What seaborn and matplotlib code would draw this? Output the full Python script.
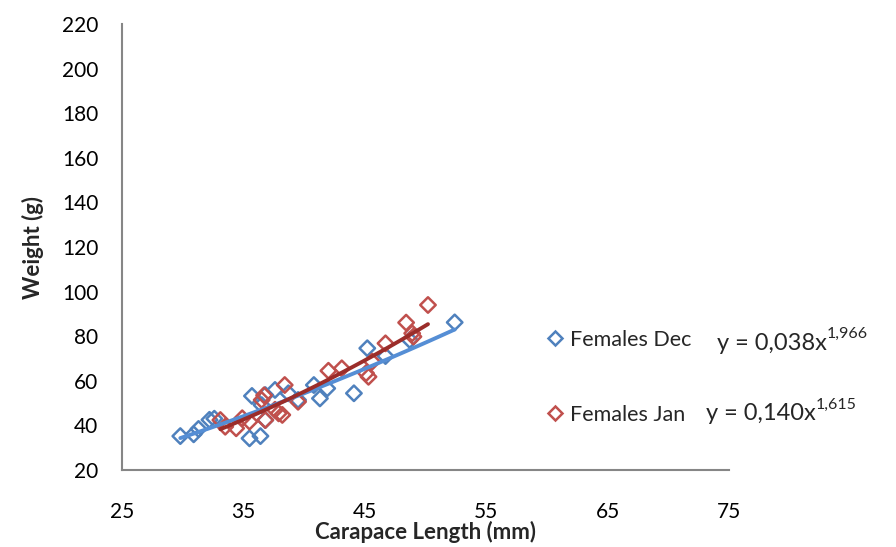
import numpy as np
import pandas as pd
import matplotlib
matplotlib.use("Agg")
import matplotlib.pyplot as plt
import seaborn as sns
from matplotlib.lines import Line2D

# ---- data ----
dec_length = [29.8, 30.9, 31.3, 32.2, 32.6, 35.5, 36.4, 35.7, 36.5, 36.8, 36.8,
              37.6, 38.7, 39.5, 40.8, 41.3, 41.9, 44.1, 45.2, 46.7, 48.7, 52.4]
dec_weight = [35.2, 36.0, 38.4, 42.5, 43.0, 34.2, 35.2, 53.2, 49.1, 42.4, 53.6,
              55.9, 54.4, 51.4, 58.1, 52.1, 56.6, 54.4, 74.6, 71.1, 78.3, 86.2]
jan_length = [33.1, 33.5, 34.4, 34.9, 35.5, 36.5, 36.7, 36.8, 37.6, 37.9, 38.2,
              38.4, 39.5, 42.0, 43.1, 45.1, 45.3, 45.6, 46.7, 48.4, 48.9, 49.0, 50.2]
jan_weight = [42.4, 39.4, 38.7, 43.2, 41.7, 51.4, 53.5, 42.4, 47.0, 45.4, 44.7,
              58.1, 50.6, 64.5, 65.6, 63.4, 61.8, 68.6, 76.8, 86.1, 81.3, 79.8, 94.0]
series_names = ["Females Dec", "Females Jan"]
equations = [("y = 0,038x", "1,966"), ("y = 0,140x", "1,615")]
x_ticks = [25, 35, 45, 55, 65, 75]
y_ticks = list(range(20, 221, 20))

marker_colors = ["#4F81BD", "#C0504D"]
line_colors = ["#558ED5", "#9B2D2A"]

df = pd.DataFrame({
    "length": dec_length + jan_length,
    "weight": dec_weight + jan_weight,
    "series": [series_names[0]] * len(dec_length) + [series_names[1]] * len(jan_length),
})

# power trendlines fitted to the data (as the spreadsheet does)
trend_rows = []
for name, xs, ys in [(series_names[0], dec_length, dec_weight),
                     (series_names[1], jan_length, jan_weight)]:
    b, a = np.polyfit(np.log(xs), np.log(ys), 1)
    xx = np.linspace(min(xs), max(xs), 50)
    for xv in xx:
        trend_rows.append({"length": xv, "weight": np.exp(a) * xv ** b, "series": name})
trend = pd.DataFrame(trend_rows)

sns.set_theme(style="white")
plt.rcParams["font.family"] = ["Lato", "DejaVu Sans"]

fig = plt.figure(figsize=(8.96, 5.47), dpi=100)
ax = fig.add_axes([0.1362, 0.1408, 0.6775, 0.8152])

palette_m = dict(zip(series_names, marker_colors))
palette_l = dict(zip(series_names, line_colors))

sns.scatterplot(data=df, x="length", y="weight", hue="series", palette=palette_m,
                marker="D", s=62, linewidth=1.8,
                legend=False, ax=ax, zorder=2)
# hollow markers with coloured edges
for coll in ax.collections:
    fc = coll.get_facecolors()
    coll.set_edgecolors(fc)
    coll.set_facecolors("none")

sns.lineplot(data=trend, x="length", y="weight", hue="series", palette=palette_l,
             linewidth=2.8, legend=False, ax=ax, zorder=3)

ax.set_xlim(25, 75)
ax.set_ylim(20, 220)
ax.set_xticks(x_ticks)
ax.set_yticks(y_ticks)
ax.set_xticklabels([str(t) for t in x_ticks])
ax.set_yticklabels([str(t) for t in y_ticks])

for side in ["top", "right"]:
    ax.spines[side].set_visible(False)
for side in ["left", "bottom"]:
    ax.spines[side].set_color("#868686")
    ax.spines[side].set_linewidth(1.5)
ax.tick_params(axis="both", which="both", direction="out", length=6, width=1.3,
               color="#868686", labelsize=15, labelcolor="black")
ax.tick_params(axis="x", pad=17)
ax.tick_params(axis="y", pad=11)
ax.grid(False)

ax.set_xlabel("Carapace Length (mm)", fontsize=16, fontweight="bold", labelpad=-1)
ax.set_ylabel("Weight (g)", fontsize=16, fontweight="bold", labelpad=13)

handles = [Line2D([0], [0], marker="D", linestyle="none", markersize=7,
                  markerfacecolor="none", markeredgecolor=c, markeredgewidth=1.8)
           for c in marker_colors]
leg = fig.legend(handles, series_names, loc="upper left",
                 bbox_to_anchor=(0.597, 0.413), frameon=False, fontsize=15.5,
                 labelspacing=2.55, handletextpad=0.15, handlelength=1.1,
                 borderaxespad=0)

eq_pos = [(0.800, 0.361), (0.788, 0.232)]
for (base, sup), (xp, yp) in zip(equations, eq_pos):
    t = fig.text(xp, yp, base, fontsize=17, ha="left", va="baseline")
    ax.annotate(sup, xy=(1.0, 0.6), xycoords=t, fontsize=11.5,
                ha="left", va="bottom")

fig.savefig("out.png", dpi=100)
